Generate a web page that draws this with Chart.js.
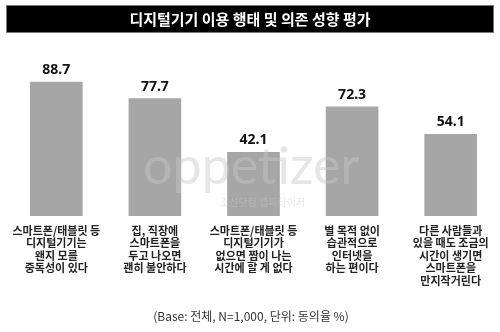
<!DOCTYPE html>
<html>
<head>
<meta charset="utf-8">
<script src="https://cdn.jsdelivr.net/npm/chart.js@4"></script>
<style>
  html, body { margin: 0; padding: 0; background: #fff; }
  #wrap { width: 500px; height: 332px; }
</style>
</head>
<body>
<div id="wrap"><canvas id="chart" width="500" height="332"></canvas></div>
<script>
const chartTitle = "디지털기기 이용 행태 및 의존 성향 평가";
const footNote = "(Base: 전체, N=1,000, 단위: 동의율 %)";
const categories = [
  ["스마트폰/태블릿 등", "디지털기기는", "왠지 모를", "중독성이 있다"],
  ["집, 직장에", "스마트폰을", "두고 나오면", "괜히 불안하다"],
  ["스마트폰/태블릿 등", "디지털기기가", "없으면 짬이 나는", "시간에 할 게 없다"],
  ["별 목적 없이", "습관적으로", "인터넷을", "하는 편이다"],
  ["다른 사람들과", "있을 때도 조금의", "시간이 생기면", "스마트폰을", "만지작거린다"]
];
const agreeRates = [88.7, 77.7, 42.1, 72.3, 54.1];

const korFont = "'Noto Sans CJK KR', 'Noto Sans', sans-serif";

// black title bar, footnote and faint watermark
const decorPlugin = {
  id: "decor",
  beforeDraw(chart) {
    const ctx = chart.ctx;
    ctx.save();
    ctx.fillStyle = "#fff";
    ctx.fillRect(0, 0, chart.width, chart.height);
    ctx.fillStyle = "#000";
    ctx.fillRect(7, 5, 486, 27);
    ctx.strokeStyle = "#777";
    ctx.lineWidth = 1;
    ctx.strokeRect(6.5, 5.5, 487, 27);
    ctx.fillStyle = "#fff";
    ctx.font = "bold 15px " + korFont;
    ctx.textAlign = "center";
    ctx.textBaseline = "middle";
    ctx.fillText(chartTitle, 250, 19.5);
    ctx.fillStyle = "#333";
    ctx.font = "12px " + korFont;
    ctx.fillText(footNote, 251, 316);
    ctx.restore();
  },
  afterDatasetsDraw(chart) {
    const ctx = chart.ctx;
    ctx.save();
    ctx.fillStyle = "rgba(200,200,200,0.45)";
    ctx.font = "52px Lato, 'Open Sans', sans-serif";
    ctx.textAlign = "left";
    ctx.textBaseline = "alphabetic";
    ctx.fillText("oppetizer", 143, 184);
    ctx.font = "10px " + korFont;
    ctx.textBaseline = "middle";
    ctx.fillText("조선닷컴 앱피타이저", 220, 202);
    ctx.restore();
  }
};

// value labels above each bar
const valuePlugin = {
  id: "values",
  afterDatasetsDraw(chart) {
    const ctx = chart.ctx;
    const meta = chart.getDatasetMeta(0);
    ctx.save();
    ctx.fillStyle = "#111";
    ctx.font = "bold 14px 'Noto Sans', sans-serif";
    ctx.textAlign = "center";
    ctx.textBaseline = "bottom";
    meta.data.forEach((bar, i) => {
      ctx.fillText(agreeRates[i].toFixed(1), bar.x, bar.y - 5);
    });
    ctx.restore();
  }
};

new Chart(document.getElementById("chart").getContext("2d"), {
  type: "bar",
  data: {
    labels: categories,
    datasets: [{
      data: agreeRates,
      backgroundColor: "#a6a6a6",
      borderWidth: 0,
      barThickness: 52
    }]
  },
  options: {
    responsive: false,
    animation: false,
    layout: { padding: { top: 65, bottom: 16, left: 7, right: 0 } },
    plugins: {
      legend: { display: false },
      title: { display: false },
      tooltip: { enabled: false }
    },
    scales: {
      x: {
        grid: { display: false, drawTicks: false },
        border: { display: false },
        ticks: {
          color: "#222",
          padding: 8,
          maxRotation: 0,
          autoSkip: false,
          font: { family: korFont, size: 11, weight: "bold", lineHeight: 1.15 }
        },
        afterFit(scale) { scale.height = 100; }
      },
      y: {
        display: false,
        min: 0,
        max: 100
      }
    }
  },
  plugins: [decorPlugin, valuePlugin]
});
</script>
</body>
</html>
